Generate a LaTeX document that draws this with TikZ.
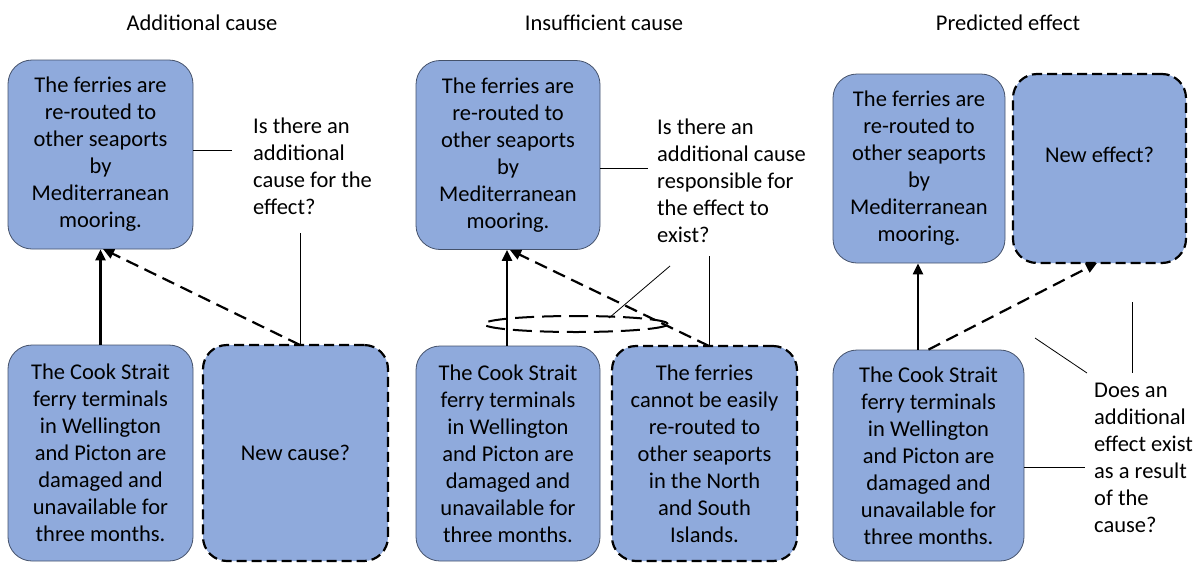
\documentclass[tikz,border=0pt]{standalone}
\usepackage{fontspec}
\setmainfont{Carlito}
\usetikzlibrary{arrows.meta,calc,shapes.geometric}

\definecolor{boxfill}{HTML}{8FAADC}
\definecolor{boxline}{HTML}{45526B}

\tikzset{
  base/.style={font=\fontsize{22.5}{27}\selectfont},
  fact/.style={base, draw=boxline, line width=0.8pt, fill=boxfill,
    rounded corners=24pt, align=center, inner sep=0pt},
  guess/.style={base, draw=black, line width=2.2pt, dash pattern=on 10pt off 5pt,
    fill=boxfill, rounded corners=24pt, align=center, inner sep=0pt},
  question/.style={base, align=left, inner sep=0pt, anchor=north west},
  heading/.style={base},
  cause/.style={line width=2.2pt, -{Triangle[length=11pt,width=10pt]}},
  maybe/.style={line width=2.2pt, dash pattern=on 13pt off 7pt,
    -{Triangle[length=11pt,width=10pt]}},
  callout/.style={line width=0.8pt}
}

\begin{document}
\begin{tikzpicture}[x=1pt,y=-1pt]
\useasboundingbox (0,0) rectangle (1203,563);

% ---------- Additional cause ----------
\node[heading] (t1) at (202,23) {Additional cause};
\node[fact, minimum width=185pt, minimum height=189pt] (effA) at (100.5,154.5)
  {The ferries are\\re-routed to\\other seaports\\by\\Mediterranean\\mooring.};
\node[fact, minimum width=185pt, minimum height=216pt] (causeA) at (100.5,453)
  {The Cook Strait\\ferry terminals\\in Wellington\\and Picton are\\damaged and\\unavailable for\\three months.};
\node[guess, minimum width=185pt, minimum height=216pt] (newA) at (295.5,453) {New cause?};
\node[question] (qA) at (253,118) {Is there an\\additional\\cause for the\\effect?};

\coordinate (aStart) at (300,345);
\coordinate (aEnd) at (103,249);
\coordinate (aLine) at (300,233);
\draw[cause] (causeA.north) -- (effA.south);
\draw[maybe] (aStart) -- (aEnd);
\draw[callout] (aLine) -- (aStart);
\draw[callout] (effA.east |- 0,150) -- (232,150);

% ---------- Insufficient cause ----------
\node[heading] (t2) at (604,23) {Insufficient cause};
\node[fact, minimum width=184pt, minimum height=189pt] (effB) at (508,155)
  {The ferries are\\re-routed to\\other seaports\\by\\Mediterranean\\mooring.};
\node[fact, minimum width=184pt, minimum height=215pt] (causeB) at (508,453.5)
  {The Cook Strait\\ferry terminals\\in Wellington\\and Picton are\\damaged and\\unavailable for\\three months.};
\node[guess, minimum width=185pt, minimum height=215pt] (newB) at (704.5,453.5)
  {The ferries\\cannot be easily\\re-routed to\\other seaports\\in the North\\and South\\Islands.};
\node[question] (qB) at (657,119) {Is there an\\additional cause\\responsible for\\the effect to\\exist?};

\coordinate (bStart) at (709,346);
\coordinate (bEnd) at (510,250);
\coordinate (bLine) at (709,256);
\coordinate (bPtr) at (670,266);
\coordinate (bTip) at (609,318);
\draw[cause] (causeB.north -| 507,0) -- (effB.south -| 507,0);
\draw[maybe] (bStart) -- (bEnd);
\draw[callout] (bLine) -- (bStart);
\draw[callout] (effB.east |- 0,168) -- (648,168);
\node[draw, ellipse, line width=2pt, dash pattern=on 19pt off 8pt,
  minimum width=184pt, minimum height=16pt, inner sep=0pt] (pair) at (576,324) {};
\draw[callout] (bPtr) -- (bTip);

% ---------- Predicted effect ----------
\node[heading] (t3) at (1008,23) {Predicted effect};
\node[fact, minimum width=172pt, minimum height=189pt] (effC) at (919,168.5)
  {The ferries are\\re-routed to\\other seaports\\by\\Mediterranean\\mooring.};
\node[guess, minimum width=173pt, minimum height=189pt] (newC) at (1099.5,168.5) {};
\node[base] (newCtxt) at (1099.5,155) {New effect?};
\node[fact, minimum width=191pt, minimum height=211pt] (causeC) at (928.5,455.5)
  {The Cook Strait\\ferry terminals\\in Wellington\\and Picton are\\damaged and\\unavailable for\\three months.};
\node[question] (qC) at (1094,383) {Does an\\additional\\effect exist\\as a result\\of the\\cause?};

\coordinate (cEnd) at (1097,263);
\draw[cause] (causeC.north -| 918,0) -- (effC.south -| 918,0);
\draw[maybe] (causeC.north) -- (cEnd);
\coordinate (cA1) at (1035,338);
\coordinate (cA2) at (1087,373);
\coordinate (cB1) at (1132,302);
\coordinate (cB2) at (1132,373);
\coordinate (cC2) at (1085,467);
\draw[callout] (cA1) -- (cA2);
\draw[callout] (cB1) -- (cB2);
\draw[callout] (causeC.east |- cC2) -- (cC2);
\end{tikzpicture}
\end{document}
